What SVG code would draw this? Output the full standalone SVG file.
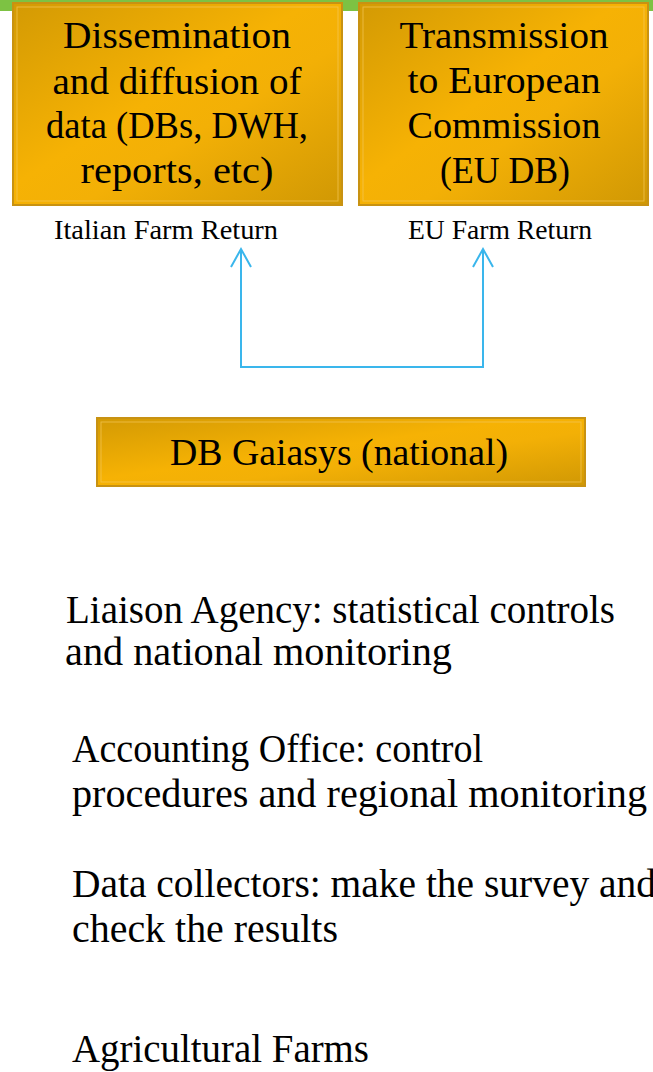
<svg xmlns="http://www.w3.org/2000/svg" width="653" height="1072" viewBox="0 0 653 1072">
<defs>
<linearGradient id="gold" x1="0" y1="0" x2="1" y2="1">
<stop offset="0" stop-color="#d39a04"/>
<stop offset="0.45" stop-color="#f6b204"/>
<stop offset="0.6" stop-color="#f3b006"/>
<stop offset="1" stop-color="#d09804"/>
</linearGradient>
<marker id="arr" markerUnits="userSpaceOnUse" markerWidth="40" markerHeight="40" refX="0" refY="0" orient="auto-start-reverse" overflow="visible">
<path d="M-18,-10 L0,0 L-18,10" fill="none" stroke="#3ab6ec" stroke-width="2"/>
</marker>
</defs>
<style>
.box{fill:url(#gold);stroke:#c89212;stroke-width:2}
.bevel{fill:none;stroke:#f5c85a;stroke-width:1;opacity:0.7}
.bt{font-family:"Liberation Serif",serif;font-size:38px;fill:#000;text-anchor:middle}
.lbl{font-family:"Liberation Serif",serif;font-size:28px;fill:#000}
.txt{font-family:"Liberation Serif",serif;font-size:39px;fill:#000}
.conn{fill:none;stroke:#3ab6ec;stroke-width:2}
</style>
<rect x="0" y="0" width="653" height="11" fill="#7dc243"/>
<rect x="0" y="11" width="653" height="1061" fill="#fff"/>

<g id="node-dissemination">
<rect class="box" x="13" y="3" width="329" height="202"/>
<rect class="bevel" x="17" y="7" width="321" height="194"/>
<text class="bt" x="177" y="48" textLength="228" lengthAdjust="spacingAndGlyphs">Dissemination</text>
<text class="bt" x="177" y="94" textLength="249" lengthAdjust="spacingAndGlyphs">and diffusion of</text>
<text class="bt" x="177" y="138" textLength="262" lengthAdjust="spacingAndGlyphs">data (DBs, DWH,</text>
<text class="bt" x="177" y="183" textLength="193" lengthAdjust="spacingAndGlyphs">reports, etc)</text>
</g>

<g id="node-transmission">
<rect class="box" x="359" y="3" width="289" height="202"/>
<rect class="bevel" x="363" y="7" width="281" height="194"/>
<text class="bt" x="504" y="48" textLength="209" lengthAdjust="spacingAndGlyphs">Transmission</text>
<text class="bt" x="504" y="93" textLength="193" lengthAdjust="spacingAndGlyphs">to European</text>
<text class="bt" x="504" y="138" textLength="193" lengthAdjust="spacingAndGlyphs">Commission</text>
<text class="bt" x="505" y="183" textLength="130" lengthAdjust="spacingAndGlyphs">(EU DB)</text>
</g>

<g id="label-italian">
<text class="lbl" x="54" y="239" textLength="224" lengthAdjust="spacingAndGlyphs">Italian Farm Return</text>
</g>
<g id="label-eu">
<text class="lbl" x="408" y="239" textLength="184" lengthAdjust="spacingAndGlyphs">EU Farm Return</text>
</g>

<g id="connectors">
<path class="conn" d="M241,249 L241,367 L483,367 L483,249" marker-start="url(#arr)" marker-end="url(#arr)"/>
</g>

<g id="node-gaiasys">
<rect class="box" x="97" y="418" width="488" height="68"/>
<rect class="bevel" x="101" y="422" width="480" height="60"/>
<text class="bt" x="339" y="465" textLength="338" lengthAdjust="spacingAndGlyphs">DB Gaiasys (national)</text>
</g>

<g id="text-liaison">
<text class="txt" x="66" y="623" textLength="549" lengthAdjust="spacingAndGlyphs">Liaison Agency: statistical controls</text>
<text class="txt" x="65" y="665" textLength="387" lengthAdjust="spacingAndGlyphs">and national monitoring</text>
</g>
<g id="text-accounting">
<text class="txt" x="72" y="762" textLength="411" lengthAdjust="spacingAndGlyphs">Accounting Office: control</text>
<text class="txt" x="72" y="807" textLength="575" lengthAdjust="spacingAndGlyphs">procedures and regional monitoring</text>
</g>
<g id="text-collectors">
<text class="txt" x="72" y="897" textLength="584" lengthAdjust="spacingAndGlyphs">Data collectors: make the survey and</text>
<text class="txt" x="72" y="942" textLength="266" lengthAdjust="spacingAndGlyphs">check the results</text>
</g>
<g id="text-farms">
<text class="txt" x="72" y="1062" textLength="297" lengthAdjust="spacingAndGlyphs">Agricultural Farms</text>
</g>
</svg>
